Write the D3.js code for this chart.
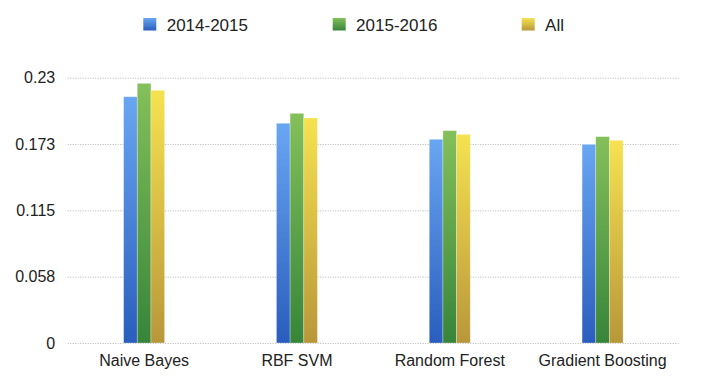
<!DOCTYPE html>
<html><head><meta charset="utf-8">
<script src="https://cdn.jsdelivr.net/npm/d3@7"></script>
<style>body{margin:0;background:#fff;} text{font-family:"Liberation Sans",Arial,Helvetica,sans-serif;fill:#222;}</style>
</head><body>
<svg id="c" width="716" height="382"></svg>
<script>
const categories = ["Naive Bayes", "RBF SVM", "Random Forest", "Gradient Boosting"];
const seriesNames = ["2014-2015", "2015-2016", "All"];
const values2014 = [0.2135, 0.1905, 0.1766, 0.1722];
const values2015 = [0.2251, 0.1991, 0.1841, 0.1789];
const valuesAll  = [0.2191, 0.1951, 0.1809, 0.1757];
const tickValues = [0, 0.0575, 0.115, 0.1725, 0.23];
const tickLabels = ["0", "0.058", "0.115", "0.173", "0.23"];

const seriesValues = [values2014, values2015, valuesAll];
const colors = [["#69a6f2", "#2a5dbd"], ["#84c05a", "#37853a"], ["#f6e250", "#b8973a"]];

const svg = d3.select("#c");
const defs = svg.append("defs");
colors.forEach((c, i) => {
  const g = defs.append("linearGradient").attr("id", "g" + i)
    .attr("x1", 0).attr("y1", 0).attr("x2", 0).attr("y2", 1);
  g.append("stop").attr("offset", "0%").attr("stop-color", c[0]);
  g.append("stop").attr("offset", "100%").attr("stop-color", c[1]);
});

const mLeft = 67.7, mRight = 679, mTop = 77.7, mBottom = 343;
const y = d3.scaleLinear().domain([0, 0.23]).range([mBottom, mTop]);
const x0 = d3.scaleBand().domain(categories).range([mLeft, mRight]).padding(0);
const groupW = 41;
const x1 = d3.scaleBand().domain(seriesNames)
  .range([x0.bandwidth() / 2 - groupW / 2, x0.bandwidth() / 2 + groupW / 2]).padding(0);

// gridlines
const yAxis = d3.axisLeft(y).tickValues(tickValues)
  .tickFormat((d, i) => tickLabels[i]).tickSize(-(mRight - mLeft)).tickPadding(10);
const ga = svg.append("g").attr("transform", `translate(${mLeft},0)`).call(yAxis);
ga.select(".domain").remove();
ga.selectAll(".tick line").attr("stroke", "#b4b4b4").attr("stroke-width", 1)
  .attr("stroke-dasharray", "1,1.5");
ga.selectAll(".tick text").attr("font-size", 16).attr("fill", "#222")
  .attr("x", -12.5);

// bars
const groups = svg.append("g").selectAll("g").data(categories).join("g")
  .attr("transform", d => `translate(${x0(d)},0)`);
groups.selectAll("rect")
  .data((d, ci) => seriesNames.map((s, si) => ({ s, si, v: seriesValues[si][ci] })))
  .join("rect")
  .attr("x", d => x1(d.s))
  .attr("width", x1.bandwidth())
  .attr("y", d => y(d.v))
  .attr("height", d => y(0) - y(d.v))
  .attr("fill", d => `url(#g${d.si})`)
  .attr("stroke", "rgba(255,255,255,0.35)")
  .attr("stroke-width", 0.8);

// x labels
const xAxis = d3.axisBottom(x0).tickSize(0).tickPadding(12);
const gx = svg.append("g").attr("transform", `translate(0,${mBottom})`).call(xAxis);
gx.select(".domain").remove();
gx.selectAll(".tick text").attr("font-size", 16).attr("fill", "#222");

// legend
const legendX = [143.3, 332.7, 521.7];
const lg = svg.append("g").selectAll("g").data(seriesNames).join("g")
  .attr("transform", (d, i) => `translate(${legendX[i]},18)`);
lg.append("rect").attr("width", 13).attr("height", 12.5)
  .attr("fill", (d, i) => `url(#g${i})`);
lg.append("text").attr("x", 23.4).attr("y", 12.6).attr("font-size", 17)
  .text(d => d);
</script>
</body></html>
